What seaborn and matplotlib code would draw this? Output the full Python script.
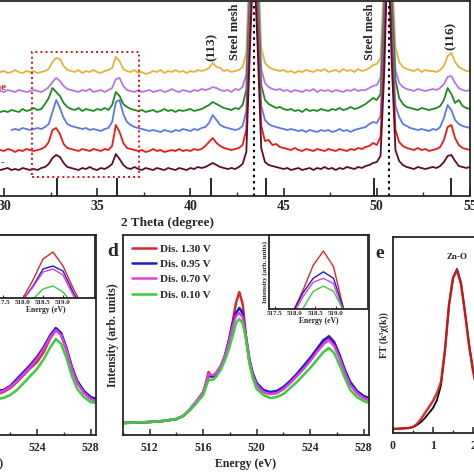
import numpy as np
import matplotlib
matplotlib.use("Agg")
import matplotlib.pyplot as plt
from matplotlib.patches import Rectangle
import seaborn as sns

sns.set_style("ticks")
plt.rcParams['font.family'] = ['Liberation Serif', 'DejaVu Serif']
plt.rcParams['font.weight'] = 'bold'
plt.rcParams['axes.labelweight'] = 'bold'
plt.rcParams['xtick.direction'] = 'in'
plt.rcParams['ytick.direction'] = 'in'
plt.rcParams['axes.linewidth'] = 1.3

# ---------------- XRD (top panel), heights above each baseline ----------------
# 0.2 degree steps, with extra samples either side of the two steel-mesh peaks
two_theta = sorted([round(v, 1) for v in np.arange(29.8, 55.01, 0.2)] + [43.3, 43.5, 50.5, 50.7])
xrd_orange = [1, 2, 0, 1, 3, 1, 0, 2, 1, 2,
              0, 1, 2, 4, 11, 15, 14, 7, 3, 2,
              1, 3, 0, 2, 1, 3, 1, 0, 2, 3,
              5, 16, 12, 4, 2, 1, 3, 0, 1, -1,
              0, 2, 1, 3, 0, 2, 1, 3, 1, 2,
              0, 2, 1, 3, 2, 3, 5, 10, 6, 5,
              2, 3, 1, 2, 3, 6, 20, 126, 170, 600, 170, 127,
              25, 10, 6, 4, 3, 2, 3, 1, 2, 0,
              2, 1, 3, 2, 1, 3, 2, 4, 1, 2,
              3, 1, 4, 2, 3, 1, 4, 2, 3, 5,
              8, 9, 15, 100, 165, 600, 170, 110, 26, 11, 6, 4,
              3, 2, 4, 1, 3, 2, 2, 1, 3, 7,
              17, 20, 11, 6, 4, 2, 2]
xrd_purple = [1, 0, 2, 1, 0, 2, 1, 0, 1, 2,
              1, 0, 2, 5, 10, 14, 11, 6, 3, 2,
              1, 0, 2, 1, 3, 0, 1, 2, 0, 2,
              4, 13, 14, 6, 2, 1, 0, 2, 0, 1,
              2, 0, 1, 2, 0, 1, 3, 1, 0, 2,
              1, 0, 2, 1, 3, 2, 3, 5, 4, 2,
              1, 2, 0, 3, 2, 5, 18, 125, 170, 600, 170, 125,
              23, 9, 5, 3, 2, 3, 1, 2, 0, 2,
              1, 0, 2, 1, 3, 0, 2, 1, 2, 0,
              2, 1, 0, 2, 1, 3, 1, 2, 2, 4,
              6, 7, 14, 98, 165, 600, 170, 108, 22, 9, 5, 3,
              2, 1, 3, 2, 1, 2, 3, 2, 4, 8,
              15, 16, 9, 4, 2, 1, 2]
xrd_green = [0, 1, 0, 2, 1, 0, 3, 1, 2, 4,
             2, 3, 8, 14, 24, 20, 16, 9, 5, 3,
             2, 4, 1, 3, 2, 1, 3, 2, 4, 2,
             7, 20, 16, 8, 5, 3, 2, 1, 2, 0,
             1, 2, 0, 1, 3, 1, 2, 0, 2, 1,
             2, 3, 1, 2, 3, 5, 7, 10, 8, 6,
             4, 3, 2, 4, 3, 7, 22, 126, 172, 600, 172, 128,
             27, 12, 8, 6, 4, 5, 3, 2, 3, 1,
             2, 0, 3, 1, 2, 1, 3, 2, 1, 3,
             2, 4, 2, 3, 5, 3, 4, 6, 8, 11,
             14, 12, 18, 100, 166, 600, 172, 112, 32, 14, 8, 5,
             4, 3, 2, 4, 3, 2, 3, 4, 6, 12,
             24, 18, 9, 12, 6, 4, 3]
xrd_blue = [np.nan, np.nan, np.nan, 2, 3, 2, 4, 3, 2, 3,
            4, 3, 5, 8, 20, 32, 24, 14, 8, 6,
            5, 4, 3, 4, 2, 3, 2, 1, 3, 4,
            10, 30, 32, 18, 10, 7, 5, 4, 3, 2,
            1, 2, 1, 0, 2, 1, 0, 2, 1, 3,
            2, 1, 3, 2, 4, 5, 9, 17, 12, 7,
            5, 4, 3, 2, 3, 6, 21, 126, 170, 600, 170, 127,
            26, 12, 8, 6, 5, 4, 3, 2, 3, 2,
            1, 2, 0, 2, 1, 0, 2, 1, 2, 0,
            1, 3, 1, 2, 0, 2, 3, 4, 5, 8,
            10, 9, 16, 100, 165, 600, 170, 110, 26, 15, 8, 6,
            4, 3, 2, 3, 2, 1, 3, 2, 5, 14,
            27, 22, 12, 8, 6, 5, 4]
xrd_red = [2, 1, 3, 2, 0, 2, 1, 3, 2, 1,
           2, 3, 5, 10, 22, 24, 18, 8, 4, 3,
           2, 1, 3, 2, 1, 3, 2, 1, 3, 2,
           6, 27, 20, 9, 4, 3, 2, 1, 2, 0,
           1, 3, 1, 2, 0, 1, 2, 1, 3, 1,
           2, 1, 3, 2, 3, 6, 10, 14, 9, 6,
           4, 3, 2, 3, 4, 7, 22, 126, 170, 600, 170, 127,
           26, 11, 12, 7, 8, 5, 4, 3, 2, 4,
           2, 1, 3, 2, 1, 3, 2, 1, 3, 2,
           1, 3, 2, 1, 3, 2, 4, 3, 5, 6,
           9, 7, 15, 100, 165, 600, 170, 110, 22, 10, 6, 4,
           3, 2, 4, 2, 3, 1, 2, 3, 5, 12,
           25, 27, 14, 7, 4, 3, 2]
xrd_maroon = [0, 1, 2, 0, 1, 0, 2, 1, 0, 1,
              0, 2, 3, 6, 12, 15, 13, 7, 3, 2,
              1, 0, 2, 1, 3, 1, 0, 2, 1, 3,
              6, 16, 11, 5, 2, 1, 3, 1, 0, 2,
              1, 0, 2, 1, 0, 2, 1, 0, 2, 1,
              0, 2, 1, 3, 2, 3, 5, 7, 5, 3,
              2, 1, 2, 1, 3, 6, 18, 124, 170, 600, 170, 126,
              22, 8, 5, 4, 3, 2, 1, 2, 0, 1,
              2, 0, 1, 2, 0, 2, 1, 3, 1, 2,
              0, 2, 1, 3, 2, 1, 3, 2, 4, 5,
              7, 8, 14, 98, 165, 600, 170, 108, 20, 9, 5, 3,
              2, 1, 3, 2, 1, 2, 3, 2, 4, 8,
              14, 15, 9, 4, 3, 2, 3]
ref_peaks = [32.85, 36.08, 41.13, 44.08, 49.84, 53.98]
steel_peaks = [43.4, 50.63]

# ---------------- XANES (panels c, d) ----------------
e_d = [510, 511, 512, 513, 514, 514.5, 515, 515.5, 516, 516.2, 516.4, 516.6, 516.8,
       517, 517.3, 517.6, 517.95, 518.2, 518.45, 518.7, 518.95, 519.2, 519.45, 519.7,
       520, 520.5, 521, 521.5, 522, 522.5, 523, 523.5, 524, 524.5, 525, 525.4, 525.8,
       526.2, 526.6, 527, 527.5, 528, 528.4]
d_130 = [0, 0.5, 1, 2, 4, 7, 13, 21, 31, 40, 51, 46, 47, 50, 56, 66, 84, 101, 120, 131,
         119, 86, 62, 48, 38, 31, 29, 30, 34, 40, 47, 55, 63, 73, 82, 87, 81, 67, 51, 39,
         30, 25, 23]
d_095 = [0, 0.5, 1, 2, 4, 7, 13, 21, 30, 38, 47, 47, 47, 49, 56, 66, 84, 99, 110, 115,
         110, 86, 64, 50, 40, 33, 31, 32, 36, 42, 49, 57, 65, 74, 83, 86, 80, 68, 53, 41,
         32, 27, 25]
d_070 = [0, 0.5, 1, 2, 4, 7, 14, 22, 31, 39, 49, 48, 48, 51, 57, 66, 82, 96, 107, 110,
         106, 84, 62, 48, 38, 31, 29, 30, 34, 40, 47, 54, 62, 71, 79, 83, 77, 65, 50, 38,
         30, 25, 23]
d_010 = [0, 0.5, 1, 2, 4, 7, 13, 20, 28, 36, 43, 43, 44, 47, 53, 62, 75, 87, 100, 104,
         100, 85, 60, 45, 34, 28, 25, 26, 29, 35, 41, 48, 55, 63, 71, 75, 70, 58, 45, 33,
         26, 22, 20]

e_c = [517.75, 518.0, 518.25, 518.5, 518.75, 519.0, 519.25, 519.5, 520, 520.5, 521,
       521.5, 522, 522.5, 523, 523.5, 524, 524.5, 525, 525.4, 525.8, 526.2, 526.6, 527,
       527.5, 528, 528.4]
c_130 = [75, 94, 112, 133, 140, 126, 104, 85, 34, 30, 29, 31, 35, 41, 48, 55, 61, 71,
         85, 93, 88, 73, 55, 41, 31, 25, 23]
c_095 = [75, 92, 106, 123, 126, 121, 100, 82, 37, 33, 32, 33, 37, 44, 51, 58, 66, 76,
         88, 95, 90, 75, 56, 42, 32, 26, 24]
c_070 = [74, 92, 105, 120, 123, 117, 97, 80, 35, 31, 30, 32, 36, 42, 49, 56, 64, 74,
         86, 93, 88, 73, 54, 40, 30, 24, 22]
c_010 = [65, 80, 93, 103, 106, 100, 88, 78, 30, 26, 24, 25, 28, 33, 40, 47, 54, 64,
         76, 84, 79, 65, 47, 34, 26, 21, 20]

labels_d = ['Dis. 1.30 V', 'Dis. 0.95 V', 'Dis. 0.70 V', 'Dis. 0.10 V']

# ---------------- EXAFS FT (panel e) ----------------
r_e = [0, 0.2, 0.4, 0.5, 0.6, 0.7, 0.8, 0.9, 1.0, 1.1, 1.2, 1.3, 1.4, 1.5, 1.6, 1.7,
       1.8, 1.9, 2.0, 2.1]
ft_black = [1, 1.5, 2, 3, 5, 8, 12, 17, 22, 30, 45, 80, 125, 152, 161, 147, 118, 86, 60, 40]
ft_red = [1, 1.5, 2, 3, 6, 11, 17, 23, 29, 37, 48, 80, 125, 152, 160, 146, 117, 85, 59, 40]

W = 474.0


def box(l, t, r, b):
    return [l / W, 1 - b / W, (r - l) / W, (b - t) / W]


fig = plt.figure(figsize=(4.74, 4.74), dpi=100)

# ---- top XRD panel ----
ax1 = fig.add_axes(box(-135.8, 1, 470, 196))
xrd = [(xrd_maroon, '#5c0c2c', 26), (xrd_red, '#ec1a14', 44), (xrd_blue, '#5a78e6', 64),
       (xrd_green, '#1c8c1c', 84), (xrd_purple, '#b574ea', 104), (xrd_orange, '#e6b23a', 123)]
for vals, col, off in reversed(xrd):
    sns.lineplot(x=two_theta, y=np.array(vals, dtype=float) + off, ax=ax1,
                 color=col, lw=1.3)
ax1.vlines(ref_peaks, 0, 18, color='black', lw=1.2)
for p in steel_peaks:
    ax1.axvline(p, color='black', lw=1.5, ls=(0, (1.2, 1.8)), zorder=5)
ax1.add_patch(Rectangle((31.5, 19), 5.74, 125, fill=False, ec='#e0101a',
                        lw=1.4, ls=(0, (1, 1.6)), zorder=6))
ax1.text(41.13, 149, '(113)', rotation=90, ha='center', va='center', fontsize=9.5)
ax1.text(42.37, 164, 'Steel mesh', rotation=90, ha='center', va='center', fontsize=9)
ax1.text(49.63, 164, 'Steel mesh', rotation=90, ha='center', va='center', fontsize=9)
ax1.text(53.95, 160, '(116)', rotation=90, ha='center', va='center', fontsize=9.5)
ax1.set_xlim(22.5, 55)
ax1.set_ylim(0, 195)
ax1.set_xticks(range(25, 56, 5))
ax1.set_xticks(np.arange(22.5, 55, 2.5), minor=True)
ax1.set_yticks([])
ax1.tick_params(axis='x', which='major', length=6, width=1.2, labelsize=10, pad=3)
ax1.tick_params(axis='x', which='minor', length=3, width=1)
ax1.set_xlabel('2 Theta (degree)', fontsize=9.5, labelpad=3)
ax1.set_ylabel('')
fig.text(7 / W, 1 - 88 / W, 'Pristine', color='#e0101a', ha='right', va='center', fontsize=8)
fig.text(4 / W, 1 - 163 / W, '-', color='#3050e0', ha='right', va='center', fontsize=8)

cols_d = ['#d42a2a', '#1c1cc8', '#e03ce0', '#3ccc3c']


def style_xanes(ax):
    ax.set_xlim(510, 528.4)
    ax.set_ylim(-12, 188)
    ax.set_xticks([512, 516, 520, 524, 528])
    ax.set_xticks([510, 514, 518, 522, 526], minor=True)
    ax.set_yticks([])
    ax.tick_params(axis='x', which='major', length=4, width=1.1, labelsize=8.5, pad=5)
    ax.tick_params(axis='x', which='minor', length=2.5, width=1)
    ax.set_xlabel('Energy (eV)', fontsize=8.5, labelpad=3)


def style_inset(ax, ylo, yhi):
    ax.set_xlim(517.36, 519.8)
    ax.set_ylim(ylo, yhi)
    ax.set_xticks([517.5, 518.0, 518.5, 519.0])
    ax.set_xticklabels(['517.5', '518.0', '518.5', '519.0'])
    ax.set_yticks([])
    ax.tick_params(axis='x', length=2, width=0.8, labelsize=5, pad=1.5)
    ax.set_xlabel('Energy (eV)', fontsize=5.5, labelpad=0.5)
    ax.set_ylabel('')


# ---- panel c (cut at left) ----
axc = fig.add_axes(box(-150.6, 235, 96, 435))
for vals, col in zip([c_130, c_095, c_070, c_010], cols_d):
    sns.lineplot(x=e_c, y=vals, ax=axc, color=col, lw=1.8)
style_xanes(axc)
axc.set_ylabel('')
axci = fig.add_axes(box(-2.6, 235, 95, 298))
for vals, col in zip([c_130, c_095, c_070, c_010], cols_d):
    sns.lineplot(x=e_c, y=vals, ax=axci, color=col, lw=1)
style_inset(axci, 94, 157)

# ---- panel d ----
axd = fig.add_axes(box(123, 235, 369, 435))
for vals, col, lab in zip([d_130, d_095, d_070, d_010], cols_d, labels_d):
    sns.lineplot(x=e_d, y=vals, ax=axd, color=col, lw=1.8, label=lab)
style_xanes(axd)
axd.set_ylabel('Intensity (arb. units)', fontsize=8.5, labelpad=3)
axd.legend(loc='upper left', frameon=False, fontsize=8, handlelength=2.2,
           handletextpad=0.3, labelspacing=0.5, borderaxespad=0.4)
fig.text(113 / W, 1 - 251 / W, 'd', ha='center', va='center', fontsize=14)

axdi = fig.add_axes(box(269, 235, 368, 309))
for vals, col in zip([d_130, d_095, d_070, d_010], cols_d):
    sns.lineplot(x=e_d, y=vals, ax=axdi, color=col, lw=1)
style_inset(axdi, 86.4, 143.3)
axdi.set_ylabel('Intensity (arb. units)', fontsize=5, labelpad=1)

# ---- panel e (cut at right) ----
axe = fig.add_axes(box(393, 237, 593, 433))
sns.lineplot(x=r_e, y=ft_black, ax=axe, color='black', lw=1.3)
sns.lineplot(x=r_e, y=ft_red, ax=axe, color='#d41c1c', lw=1.8, alpha=0.9)
axe.set_xlim(0, 5)
axe.set_ylim(-3, 193)
axe.set_xticks([0, 1, 2, 3, 4])
axe.set_xticks([0.5, 1.5, 2.5, 3.5], minor=True)
axe.set_yticks([])
axe.tick_params(axis='x', which='major', length=4, width=1.1, labelsize=8.5, pad=5)
axe.tick_params(axis='x', which='minor', length=2.5, width=1)
axe.set_ylabel('FT (k³χ(k))', fontsize=7, labelpad=3)
axe.text(1.6, 169, 'Zn-O', ha='center', va='bottom', fontsize=6.5)
fig.text(380 / W, 1 - 253 / W, 'e', ha='center', va='center', fontsize=14)

fig.savefig('out.png', dpi=100)
